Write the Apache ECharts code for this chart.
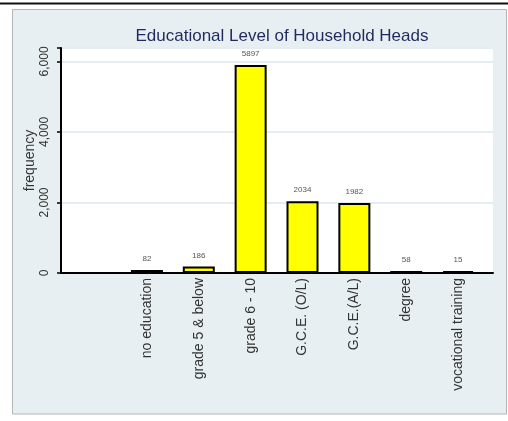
<!DOCTYPE html>
<html>
<head>
<meta charset="utf-8">
<script src="https://cdn.jsdelivr.net/npm/echarts@6/dist/echarts.min.js"></script>
<style>
html,body{margin:0;padding:0;background:#fff;}
#chart{width:508px;height:421px;}
</style>
</head>
<body>
<div id="chart"></div>
<script>
const categories = ['no education','grade 5 & below','grade 6 - 10','G.C.E. (O/L)','G.C.E.(A/L)','degree','vocational training'];
const frequencies = [82, 186, 5897, 2034, 1982, 58, 15];
const yTicks = [0, 2000, 4000, 6000];

const chart = echarts.init(document.getElementById('chart'), null, {renderer:'canvas'});
const FONT = '"Liberation Sans", Arial, sans-serif';
const yMax = 6380;

chart.setOption({
  backgroundColor: '#ffffff',
  animation: false,
  graphic: [
    {type:'rect', shape:{x:0,y:2.5,width:508,height:2}, style:{fill:'#111'}, z:-10, silent:true},
    {type:'rect', shape:{x:12.5,y:9.5,width:494,height:404.5}, style:{fill:'#e7eff2', stroke:'#b4b4b4', lineWidth:1}, z:-10, silent:true}
  ],
  title: {
    text: 'Educational Level of Household Heads',
    left: 277, top: 23, textAlign: 'center',
    textStyle: {fontFamily: FONT, fontSize: 17, fontWeight: 'normal', color: '#1f2b5e'}
  },
  grid: [
    {left: 61, right: 15, top: 48, bottom: 148, show: true, backgroundColor: '#ffffff', borderWidth: 0},
    {left: 121, right: 24, top: 48, bottom: 148}
  ],
  xAxis: [
    {type:'value', gridIndex:0, min:0, max:1, axisLine:{show:true, onZero:false, lineStyle:{color:'#000', width:2}},
     axisTick:{show:false}, axisLabel:{show:false}, splitLine:{show:false}},
    {type:'category', gridIndex:1, data: categories, boundaryGap:true,
     axisLine:{show:false}, axisTick:{show:false},
     axisLabel:{rotate:90, interval:0, margin:5, fontFamily: FONT, fontSize:14, color:'#333'}}
  ],
  yAxis: [
    {type:'value', gridIndex:0, min:0, max:yMax, interval:2000,
     name:'frequency', nameLocation:'middle', nameGap:24, nameMoveOverlap:false,
     nameTextStyle:{fontFamily: FONT, fontSize:14, color:'#333'},
     axisLine:{show:true, lineStyle:{color:'#000', width:2}},
     axisTick:{show:true, length:4, lineStyle:{color:'#000', width:1.5}},
     axisLabel:{rotate:90, margin:10, fontFamily: FONT, fontSize:12, color:'#333',
       formatter: v => yTicks.includes(v) ? v.toLocaleString('en-US') : ''},
     splitLine:{show:true, lineStyle:{color:'#e4eef2', width:2}}},
    {type:'value', gridIndex:1, min:0, max:yMax, show:false}
  ],
  series: [{
    type:'bar', xAxisIndex:1, yAxisIndex:1,
    data: frequencies, barWidth: 32, barMinHeight: 2,
    itemStyle:{color:'#ffff00', borderColor:'#000', borderWidth:2},
    label:{show:true, position:'top', distance:7, fontFamily: FONT, fontSize:8, color:'#555'}
  }]
});
</script>
</body>
</html>
